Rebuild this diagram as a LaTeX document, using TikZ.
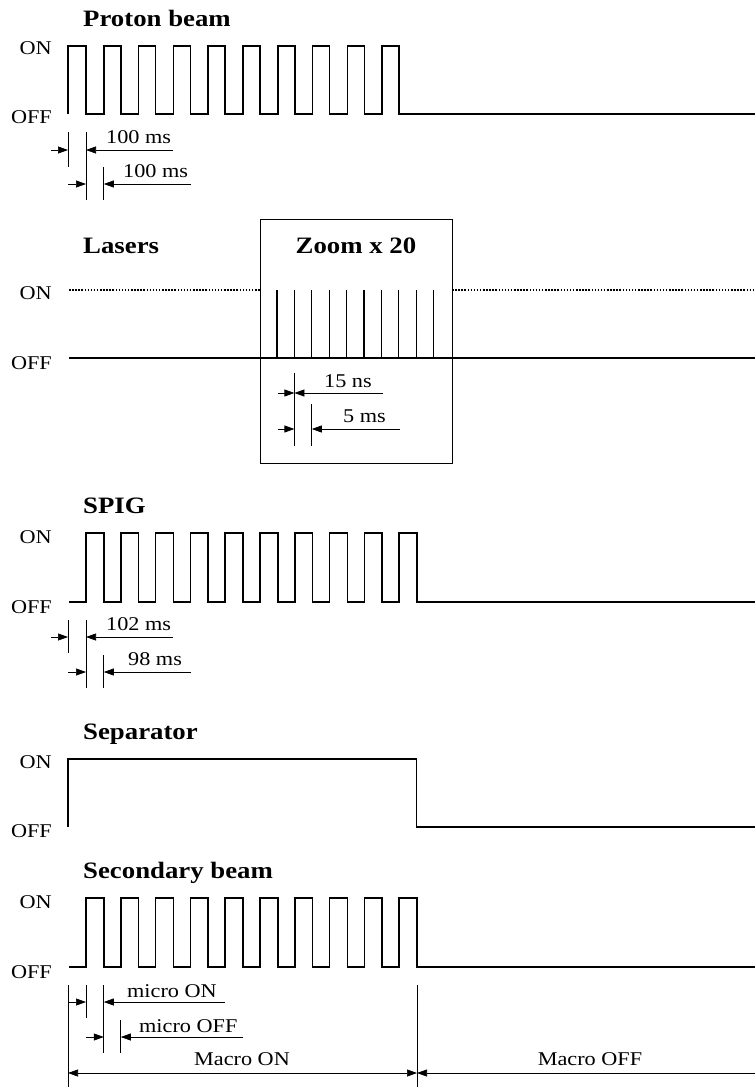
\documentclass[tikz,border=0pt]{standalone}
\usepackage{fontspec}
\setmainfont{Liberation Serif}[FakeStretch=1.14]
\usetikzlibrary{arrows.meta}
\begin{document}
\begin{tikzpicture}[x=1pt,y=-1pt,
  wave/.style={line width=1.6pt},
  spike/.style={line width=1.2pt},
  dotline/.style={line width=1.5pt,dash pattern=on 1.5pt off 1.6pt},
  dimline/.style={line width=0.7pt},
  boxline/.style={line width=0.8pt},
  dimarr/.style={line width=0.7pt,-{Triangle[length=10pt,width=7pt]}},
  dimboth/.style={line width=0.7pt,{Triangle[length=10pt,width=7pt]}-{Triangle[length=10pt,width=7pt]}},
  lbl/.style={inner sep=0pt,font=\fontsize{19.5}{20}\selectfont},
  ttl/.style={inner sep=0pt,font=\fontsize{23.5}{24}\selectfont\bfseries},
]
\useasboundingbox (0,0) rectangle (755,1087);

% ---------------- Proton beam
\node[ttl,anchor=base west] (tproton) at (83,26) {Proton beam};
\node[lbl,anchor=base east] (on1) at (52,54) {ON};
\node[lbl,anchor=base east] (off1) at (52,123) {OFF};
\draw[wave] (68,114) -- (68,46)
  \foreach \k in {0,...,8}{ -- ({86+34.8*\k},46) -- ({86+34.8*\k},114) -- ({103.8+34.8*\k},114) -- ({103.8+34.8*\k},46)}
  -- (399.2,46) -- (399.2,114) -- (755,114);
\coordinate (p1a) at (68,150); \coordinate (p1b) at (86,150);
\coordinate (p2b) at (103.8,184);
\draw[dimline] (68,132) -- (68,167);
\draw[dimline] (86,132) -- (86,200);
\draw[dimline] (103.8,167) -- (103.8,200);
\coordinate (p1l) at (51,150); \coordinate (p1r) at (173,150);
\draw[dimarr] (p1l) -- (p1a);
\draw[dimarr] (p1r) -- (p1b);
\node[lbl,anchor=base west] (d1) at (106,143) {100 ms};
\coordinate (p2l) at (68,184); \coordinate (p2m) at (86,184); \coordinate (p2r) at (191,184);
\draw[dimarr] (p2l) -- (p2m);
\draw[dimarr] (p2r) -- (p2b);
\node[lbl,anchor=base west] (d2) at (123,177) {100 ms};

% ---------------- Lasers
\node[ttl,anchor=base west] (tlaser) at (83,253) {Lasers};
\draw[boxline] (260,219) rectangle (452,463);
\node[ttl,anchor=base] (tzoom) at (356,253) {Zoom x 20};
\node[lbl,anchor=base east] (on2) at (52,299) {ON};
\node[lbl,anchor=base east] (off2) at (52,369) {OFF};
\draw[dotline] (69,290) -- (260,290);
\draw[dotline] (452,290) -- (755,290);
\draw[wave] (69,358) -- (755,358);
\foreach \k in {0,...,9} \draw[spike] ({277+17.4*\k},290) -- ({277+17.4*\k},358);
\draw[dimline] (294.4,373) -- (294.4,446);
\draw[dimline] (311.8,404) -- (311.8,446);
\coordinate (l1l) at (278,393); \coordinate (l1a) at (294.4,393); \coordinate (l1r) at (383,393);
\draw[dimarr] (l1l) -- (l1a);
\draw[dimarr] (l1r) -- (l1a);
\node[lbl,anchor=base west] (d3) at (324,387) {15 ns};
\coordinate (l2l) at (278,429); \coordinate (l2a) at (294.4,429);
\coordinate (l2b) at (311.8,429); \coordinate (l2r) at (400,429);
\draw[dimarr] (l2l) -- (l2a);
\draw[dimarr] (l2r) -- (l2b);
\node[lbl,anchor=base west] (d4) at (343,422) {5 ms};

% ---------------- SPIG
\node[ttl,anchor=base west] (tspig) at (83,513) {SPIG};
\node[lbl,anchor=base east] (on3) at (52,543) {ON};
\node[lbl,anchor=base east] (off3) at (52,613) {OFF};
\draw[wave] (69,602)
  \foreach \k in {0,...,9}{ -- ({86+34.8*\k},602) -- ({86+34.8*\k},533) -- ({103.8+34.8*\k},533) -- ({103.8+34.8*\k},602)}
  -- (755,602);
\draw[dimline] (68,620) -- (68,653);
\draw[dimline] (86,620) -- (86,688);
\draw[dimline] (103.8,655) -- (103.8,688);
\coordinate (s1l) at (51,637); \coordinate (s1a) at (68,637);
\coordinate (s1b) at (86,637); \coordinate (s1r) at (173,637);
\draw[dimarr] (s1l) -- (s1a);
\draw[dimarr] (s1r) -- (s1b);
\node[lbl,anchor=base west] (d5) at (106,630) {102 ms};
\coordinate (s2l) at (68,672); \coordinate (s2a) at (86,672);
\coordinate (s2b) at (103.8,672); \coordinate (s2r) at (191,672);
\draw[dimarr] (s2l) -- (s2a);
\draw[dimarr] (s2r) -- (s2b);
\node[lbl,anchor=base west] (d6) at (128,665) {98 ms};

% ---------------- Separator
\node[ttl,anchor=base west] (tsep) at (83,739) {Separator};
\node[lbl,anchor=base east] (on4) at (52,768) {ON};
\node[lbl,anchor=base east] (off4) at (52,837) {OFF};
\draw[wave] (68,827) -- (68,759) -- (416.5,759) -- (416.5,827) -- (755,827);

% ---------------- Secondary beam
\node[ttl,anchor=base west] (tsec) at (83,878) {Secondary beam};
\node[lbl,anchor=base east] (on5) at (52,908) {ON};
\node[lbl,anchor=base east] (off5) at (52,978) {OFF};
\draw[wave] (69,967)
  \foreach \k in {0,...,9}{ -- ({86+34.8*\k},967) -- ({86+34.8*\k},898) -- ({103.8+34.8*\k},898) -- ({103.8+34.8*\k},967)}
  -- (755,967);
\draw[dimline] (68,985) -- (68,1087);
\draw[dimline] (86,985) -- (86,1018);
\draw[dimline] (103.8,985) -- (103.8,1053);
\draw[dimline] (120.8,1020) -- (120.8,1053);
\draw[dimline] (417,985) -- (417,1087);
\coordinate (m1l) at (68,1002); \coordinate (m1a) at (86,1002);
\coordinate (m1b) at (103.8,1002); \coordinate (m1r) at (225,1002);
\draw[dimarr] (m1l) -- (m1a);
\draw[dimarr] (m1r) -- (m1b);
\node[lbl,anchor=base west] (d7) at (127,997) {micro ON};
\coordinate (m2l) at (86,1037); \coordinate (m2a) at (103.8,1037);
\coordinate (m2b) at (120.8,1037); \coordinate (m2r) at (243,1037);
\draw[dimarr] (m2l) -- (m2a);
\draw[dimarr] (m2r) -- (m2b);
\node[lbl,anchor=base west] (d8) at (139,1032) {micro OFF};
\coordinate (M1) at (68,1073); \coordinate (M2) at (417,1073); \coordinate (M3) at (755,1073);
\draw[dimboth] (M1) -- (M2);
\draw[dimarr] (M3) -- (M2);
\node[lbl,anchor=base] (d9) at (242,1065) {Macro ON};
\node[lbl,anchor=base] (d10) at (590,1065) {Macro OFF};
\end{tikzpicture}
\end{document}
